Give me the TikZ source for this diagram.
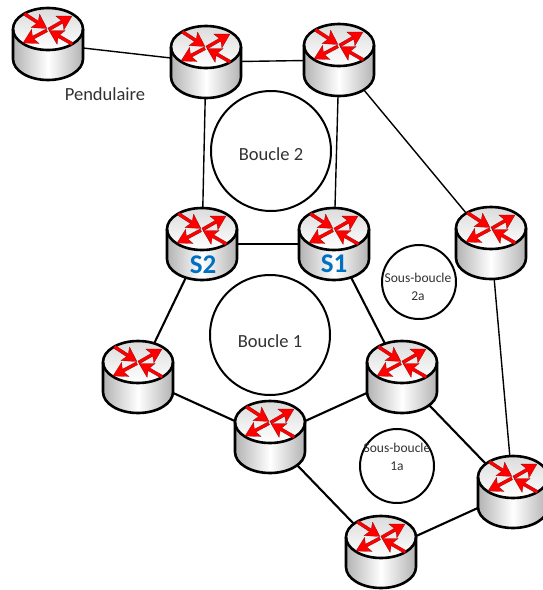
\documentclass[tikz,border=0pt]{standalone}
\usepackage{fontspec}
\setmainfont{Carlito}
\definecolor{sblue}{RGB}{0,112,192}
\definecolor{ltxt}{RGB}{50,50,50}
\tikzset{
  x=1pt,y=-1pt,
  rbody/.style={left color=black!30,right color=black!30,middle color=white},
  rtop/.style={top color=black!14,bottom color=white},
  rarrow/.style={fill=red,draw=black!50!red,line width=0.2pt},
  linka/.style={draw=black,line width=1.4pt},
  linkb/.style={draw=black,line width=2.1pt},
  loopc/.style={circle,draw=black,line width=2pt,fill=white,inner sep=0pt},
  lbl/.style={font=\fontsize{18.5}{20}\selectfont,text=ltxt,align=center},
  slbl/.style={font=\fontsize{13.5}{17.5}\selectfont,text=ltxt,align=center},
  slab/.style={font=\bfseries\fontsize{27}{27}\selectfont,text=sblue},
  hub/.style={inner sep=0pt,minimum size=0pt},
}
\newcommand{\rarrowshape}{% tip at the origin, pointing along +x
  \fill[rarrow] (-27,-1.6) -- (-11.5,-1.6) -- (-14,-8) -- (0,0) -- (-14,8) -- (-11.5,1.6) -- (-27,1.6) -- cycle;}
\newcommand{\routerat}[2]{% cx, cy of whole router
  \begin{scope}[shift={(#1,#2)}]
    \shade[rbody] (-35,-15) -- (-35,15) arc[x radius=35,y radius=21,start angle=180,end angle=0] -- (35,-15) arc[x radius=35,y radius=21,start angle=0,end angle=-180] -- cycle;
    \shade[rtop] (0,-15) ellipse[x radius=35,y radius=21];
    \draw[line width=2.6pt,line join=round] (-35,-15) -- (-35,15) arc[x radius=35,y radius=21,start angle=180,end angle=0] -- (35,-15);
    \draw[line width=2.6pt] (0,-15) ellipse[x radius=35,y radius=21];
    \begin{scope}[shift={(0,-14.5)}]
      \begin{scope}[shift={(-1,-1)},rotate=-33]\rarrowshape\end{scope}
      \begin{scope}[shift={(24,-13.5)},rotate=30]\rarrowshape\end{scope}
      \begin{scope}[shift={(-25,13.5)},rotate=-152]\rarrowshape\end{scope}
      \begin{scope}[shift={(1,1)},rotate=150]\rarrowshape\end{scope}
    \end{scope}
  \end{scope}}
\begin{document}
\begin{tikzpicture}
\useasboundingbox (0,0) rectangle (543,590);
\clip (0,0) rectangle (543,590);
\fill[white] (0,0) rectangle (543,590);
\node[hub] (r0) at (48,44) {};
\node[hub] (r1) at (206,62) {};
\node[hub] (r2) at (339,60) {};
\node[hub] (s2) at (202,244) {};
\node[hub] (s1) at (334,244) {};
\node[hub] (r3) at (491,243) {};
\node[hub] (r4) at (138,377) {};
\node[hub] (r5) at (270,437) {};
\node[hub] (r6) at (402,377) {};
\node[hub] (r7) at (513,492) {};
\node[hub] (r8) at (381,552) {};
\draw[linka] (r0) -- (r1);
\draw[linka] (r1) -- (r2);
\draw[linka] (r1) -- (s2);
\draw[linka] (r2) -- (s1);
\draw[linka] (r2) -- (r3);
\draw[linkb] (s2) -- (s1);
\draw[linkb] (s2) -- (r4);
\draw[linkb] (s1) -- (r6);
\draw[linkb] (r4) -- (r5);
\draw[linkb] (r5) -- (r6);
\draw[linkb] (r5) -- (r8);
\draw[linkb] (r6) -- (r7);
\draw[linka] (r3) -- (r7);
\draw[linkb] (r7) -- (r8);
\routerat{48}{44}
\routerat{206}{62}
\routerat{339}{60}
\routerat{202}{244}
\routerat{334}{244}
\routerat{491}{243}
\routerat{138}{377}
\routerat{270}{437}
\routerat{402}{377}
\routerat{513}{492}
\routerat{381}{552}
\node[loopc,minimum size=120pt] (b2) at (271,151) {};
\node[loopc,minimum size=120pt] (b1) at (270,335) {};
\node[loopc,minimum size=74pt] (sb2) at (419,282) {};
\node[loopc,minimum size=74pt] (sb1) at (397,466) {};
\node[lbl] (tb2) at (271,154) {Boucle 2};
\node[lbl] (tb1) at (270,341) {Boucle 1};
\node[slbl] (tsb2) at (418,287) {Sous-boucle\\2a};
\node[slbl] (tsb1) at (397,457) {Sous-boucle\\1a};
\node[lbl] (pend) at (105,94) {Pendulaire};
\node[slab] (ls2) at (203,265) {S2};
\node[slab] (ls1) at (334,264) {S1};
\end{tikzpicture}
\end{document}
